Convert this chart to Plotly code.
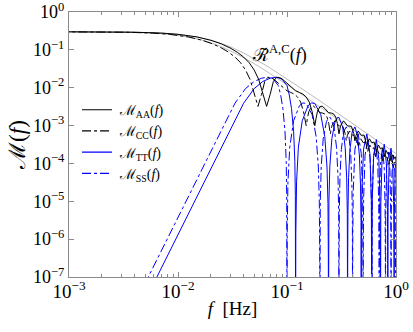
import plotly.graph_objects as go

# ---------------- data ----------------
# envelope R~ (thin grey lines): LISA-type (A) and Taiji-type (C) frequencies
F_R_A = [0.001, 0.002, 0.004, 0.007, 0.01, 0.015, 0.02, 0.025, 0.03, 0.04, 0.05,
         0.06, 0.07, 0.1, 0.15, 0.2, 0.3, 0.5, 0.7, 1.0, 1.2]
F_R_C = [0.000833, 0.001667, 0.003333, 0.005833, 0.008333, 0.0125, 0.016667,
         0.020833, 0.025, 0.033333, 0.041667, 0.05, 0.058333, 0.083333, 0.125,
         0.166667, 0.25, 0.416667, 0.583333, 0.833333, 1.0]
R_VALUES = [0.2995, 0.298, 0.2923, 0.2776, 0.2576, 0.219, 0.181, 0.148, 0.121,
            0.0826, 0.0587, 0.0434, 0.0331, 0.0172, 0.00789, 0.00449, 0.00201,
            7.28e-4, 3.72e-4, 1.82e-4, 1.266e-4]

# M_AA (LISA) and M_CC (Taiji) : same shape, different frequencies
F_AA = [0.001, 0.002, 0.004, 0.007, 0.01, 0.015, 0.02, 0.025, 0.03, 0.035, 0.04,
        0.045, 0.05, 0.055, 0.06, 0.065, 0.07, 0.075, 0.08, 0.085, 0.09, 0.1,
        0.11, 0.12, 0.13, 0.14, 0.15, 0.16, 0.17, 0.175, 0.18, 0.185, 0.19, 0.2,
        0.21, 0.225, 0.24, 0.255, 0.27, 0.28, 0.29, 0.3, 0.31, 0.33, 0.36, 0.39,
        0.41, 0.42, 0.43, 0.45, 0.48, 0.51, 0.53, 0.54, 0.55, 0.57, 0.6, 0.63,
        0.65, 0.66, 0.67, 0.69, 0.72, 0.75, 0.77, 0.78, 0.79, 0.81, 0.84, 0.87,
        0.89, 0.9, 0.91, 0.93, 0.96, 0.99, 1.01, 1.02, 1.03, 1.05, 1.08, 1.11,
        1.13, 1.14, 1.15, 1.17, 1.2]
F_CC = [0.000833, 0.001667, 0.003333, 0.005833, 0.008333, 0.0125, 0.016667,
        0.020833, 0.025, 0.029167, 0.033333, 0.0375, 0.041667, 0.045833, 0.05,
        0.054167, 0.058333, 0.0625, 0.066667, 0.070833, 0.075, 0.083333,
        0.091667, 0.1, 0.108333, 0.116667, 0.125, 0.133333, 0.141667, 0.145833,
        0.15, 0.154167, 0.158333, 0.166667, 0.175, 0.1875, 0.2, 0.2125, 0.225,
        0.233333, 0.241667, 0.25, 0.258333, 0.275, 0.3, 0.325, 0.341667, 0.35,
        0.358333, 0.375, 0.4, 0.425, 0.441667, 0.45, 0.458333, 0.475, 0.5, 0.525,
        0.541667, 0.55, 0.558333, 0.575, 0.6, 0.625, 0.641667, 0.65, 0.658333,
        0.675, 0.7, 0.725, 0.741667, 0.75, 0.758333, 0.775, 0.8, 0.825, 0.841667,
        0.85, 0.858333, 0.875, 0.9, 0.925, 0.941667, 0.95, 0.958333, 0.975, 1.0]
A_VALUES = [0.2995, 0.298, 0.2923, 0.2776, 0.2576, 0.219, 0.179, 0.1435, 0.1125,
            0.0866, 0.0644, 0.0457, 0.0293, 0.01657, 6.94e-3, 3.21e-3, 6.62e-3,
            0.01463, 0.01874, 0.01863, 0.01718, 0.01342, 0.01033, 8.27e-3, 7.5e-3,
            6.77e-3, 5.68e-3, 4.18e-3, 2.35e-3, 1.46e-3, 9.95e-4, 1.571e-3,
            2.31e-3, 3.14e-3, 3.26e-3, 2.74e-3, 2.19e-3, 2.14e-3, 1.985e-3,
            1.66e-3, 1.13e-3, 6.04e-4, 9.9e-4, 1.333e-3, 9.81e-4, 9.56e-4,
            6.11e-4, 3.92e-4, 5.56e-4, 7.19e-4, 5.53e-4, 5.6e-4, 3.86e-4, 2.75e-4,
            3.58e-4, 4.48e-4, 3.54e-4, 3.67e-4, 2.65e-4, 2.01e-4, 2.5e-4, 3.06e-4,
            2.46e-4, 2.59e-4, 1.92e-4, 1.5e-4, 1.825e-4, 2.22e-4, 1.81e-4, 1.93e-4,
            1.461e-4, 1.17e-4, 1.398e-4, 1.686e-4, 1.385e-4, 1.488e-4, 1.153e-4,
            9.46e-5, 1.108e-4, 1.323e-4, 1.094e-4, 1.184e-4, 9.28e-5, 7.72e-5,
            8.96e-5, 1.066e-4, 8.86e-5]

# M_TT (LISA) and M_SS (Taiji)
F_TT = [0.005, 0.0064, 0.01, 0.015, 0.02, 0.03, 0.04, 0.05, 0.06, 0.07, 0.08,
        0.09, 0.1, 0.105, 0.11, 0.115, 0.118, 0.1193, 0.1199, 0.12,
        0.12048, 0.1224, 0.1272, 0.138, 0.156, 0.168, 0.18, 0.204, 0.222, 0.2328,
        0.2376, 0.23952, 0.24,
        0.24048, 0.2424, 0.2472, 0.258, 0.276, 0.288, 0.3, 0.324, 0.342, 0.3528,
        0.3576, 0.35952, 0.36,
        0.36048, 0.3624, 0.3672, 0.378, 0.396, 0.42, 0.444, 0.462, 0.4728,
        0.4776, 0.47952, 0.48,
        0.4812, 0.486, 0.504, 0.54, 0.576, 0.594, 0.5988, 0.6,
        0.6012, 0.606, 0.624, 0.66, 0.696, 0.714, 0.7188, 0.72,
        0.7212, 0.726, 0.744, 0.78, 0.816, 0.834, 0.8388, 0.84,
        0.8412, 0.846, 0.864, 0.9, 0.936, 0.954, 0.9588, 0.96,
        0.9612, 0.966, 0.984, 1.02, 1.056, 1.074, 1.0788, 1.08,
        1.0812, 1.086, 1.104, 1.14, 1.176, 1.194, 1.1988, 1.2]
F_SS = [0.004167, 0.005333, 0.008333, 0.0125, 0.016667, 0.025, 0.033333,
        0.041667, 0.05, 0.058333, 0.066667, 0.075, 0.083333, 0.0875, 0.091667,
        0.095833, 0.098333, 0.099417, 0.099917, 0.1,
        0.1004, 0.102, 0.106, 0.115, 0.13, 0.14, 0.15, 0.17, 0.185, 0.194, 0.198,
        0.1996, 0.2,
        0.2004, 0.202, 0.206, 0.215, 0.23, 0.24, 0.25, 0.27, 0.285, 0.294, 0.298,
        0.2996, 0.3,
        0.3004, 0.302, 0.306, 0.315, 0.33, 0.35, 0.37, 0.385, 0.394, 0.398,
        0.3996, 0.4,
        0.401, 0.405, 0.42, 0.45, 0.48, 0.495, 0.499, 0.5,
        0.501, 0.505, 0.52, 0.55, 0.58, 0.595, 0.599, 0.6,
        0.601, 0.605, 0.62, 0.65, 0.68, 0.695, 0.699, 0.7,
        0.701, 0.705, 0.72, 0.75, 0.78, 0.795, 0.799, 0.8,
        0.801, 0.805, 0.82, 0.85, 0.88, 0.895, 0.899, 0.9,
        0.901, 0.905, 0.92, 0.95, 0.98, 0.995, 0.999, 1.0]
T_VALUES = [2.4e-8, 1e-7, 1.33e-6, 1.4e-5, 7.4e-5, 7.8e-4, 3.9e-3, 9.5e-3, 0.0146,
            0.0178, 0.019, 0.0168, 0.0113, 6.4e-3, 2.83e-3, 7.1e-4, 1.13e-4,
            1.4e-5, 2.8e-7, 1e-9,
            1.35e-6, 3.26e-5, 2.69e-4, 1.341e-3, 3.34e-3, 3.97e-3, 3.827e-3,
            1.95e-3, 5.18e-4, 8.03e-5, 8.65e-6, 3.41e-7, 1e-9,
            4.02e-7, 9.86e-6, 8.44e-5, 4.55e-4, 1.264e-3, 1.603e-3, 1.634e-3,
            9.18e-4, 2.59e-4, 4.15e-5, 4.53e-6, 1.8e-7, 1e-9,
            1.98e-7, 4.87e-6, 4.23e-5, 2.34e-4, 6.79e-4, 9.21e-4, 5.4e-4, 1.57e-4,
            2.55e-5, 2.8e-6, 1.11e-7, 1e-9,
            7.48e-7, 1.82e-5, 2.38e-4, 6.01e-4, 1.82e-4, 1.22e-5, 4.82e-7, 1e-9,
            5.09e-7, 1.24e-5, 1.65e-4, 4.27e-4, 1.32e-4, 8.94e-6, 3.56e-7, 1e-9,
            3.71e-7, 9.1e-6, 1.22e-4, 3.22e-4, 1.01e-4, 6.9e-6, 2.75e-7, 1e-9,
            2.85e-7, 7.01e-6, 9.45e-5, 2.53e-4, 8.05e-5, 5.51e-6, 2.19e-7, 1e-9,
            2.23e-7, 5.51e-6, 7.47e-5, 2.01e-4, 6.48e-5, 4.45e-6, 1.78e-7, 1e-9,
            1.82e-7, 4.48e-6, 6.11e-5, 1.66e-4, 5.38e-5, 3.71e-6, 1.48e-7, 1e-9]

X_TICKS = [0.001, 0.01, 0.1, 1]
X_TICK_TEXT = ["10<sup>\u22123</sup>", "10<sup>\u22122</sup>", "10<sup>\u22121</sup>", "10<sup>0</sup>"]
Y_TICKS = [1e-7, 1e-6, 1e-5, 1e-4, 1e-3, 1e-2, 1e-1, 1]
Y_TICK_TEXT = ["10<sup>\u22127</sup>", "10<sup>\u22126</sup>", "10<sup>\u22125</sup>",
               "10<sup>\u22124</sup>", "10<sup>\u22123</sup>", "10<sup>\u22122</sup>",
               "10<sup>\u22121</sup>", "10<sup>0</sup>"]

assert len(F_AA) == len(A_VALUES) == len(F_CC)
assert len(F_TT) == len(T_VALUES) == len(F_SS)
assert len(F_R_A) == len(R_VALUES) == len(F_R_C)

FONT = "'Liberation Serif', 'Times New Roman', serif"
BLUE = "#0000ff"

fig = go.Figure()
for fx in (F_R_A, F_R_C):
    fig.add_trace(go.Scatter(x=fx, y=R_VALUES, mode="lines", showlegend=False,
                             line=dict(color="#8c8c8c", width=0.6)))
fig.add_trace(go.Scatter(x=F_SS, y=T_VALUES, mode="lines", showlegend=False,
                         line=dict(color=BLUE, width=1, dash="dashdot")))
fig.add_trace(go.Scatter(x=F_TT, y=T_VALUES, mode="lines", showlegend=False,
                         line=dict(color=BLUE, width=1)))
fig.add_trace(go.Scatter(x=F_CC, y=A_VALUES, mode="lines", showlegend=False,
                         line=dict(color="black", width=1, dash="dashdot")))
fig.add_trace(go.Scatter(x=F_AA, y=A_VALUES, mode="lines", showlegend=False,
                         line=dict(color="black", width=1)))

# legend entries (dummy traces in the legend order of the reference)
legend_items = [("\u2009\u2133<sub>AA</sub>(<i>f</i>)", "black", "solid"),
                ("\u2009\u2133<sub>CC</sub>(<i>f</i>)", "black", "dashdot"),
                ("\u2009\u2133<sub>TT</sub>(<i>f</i>)", BLUE, "solid"),
                ("\u2009\u2133<sub>SS</sub>(<i>f</i>)", BLUE, "dashdot")]
for name, col, dash in legend_items:
    fig.add_trace(go.Scatter(x=[None], y=[None], mode="lines", name=name,
                             line=dict(color=col, width=1.2, dash=dash)))

fig.add_annotation(x=-1.07, y=-1.1, xref="x", yref="y", showarrow=False,
                   text="\u211b\u0303<sup>A,C</sup>(<i>f</i>)",
                   font=dict(family=FONT, size=18, color="black"))

axis_common = dict(type="log", showline=True, linecolor="#8a8a8a", linewidth=1,
                   mirror="ticks", ticks="inside", tickcolor="#8a8a8a",
                   ticklen=5, showgrid=False, zeroline=False, automargin=False,
                   ticklabeloverflow="allow")

fig.update_xaxes(range=[-3, 0], tickvals=X_TICKS, ticktext=X_TICK_TEXT,
                 ticklabelstandoff=-3,
                 tickfont=dict(family=FONT, size=19, color="black"),
                 minor=dict(ticks="inside", ticklen=3, tickcolor="#8a8a8a",
                            dtick="D1", showgrid=False),
                 title=dict(text="<i>f</i>  [Hz]", standoff=0,
                            font=dict(family=FONT, size=19, color="black")),
                 **axis_common)
fig.update_yaxes(range=[-7, 0], tickvals=Y_TICKS, ticktext=Y_TICK_TEXT,
                 tickfont=dict(family=FONT, size=18, color="black"),
                 title=dict(text="\u2133(<i>f</i>)", standoff=0,
                            font=dict(family=FONT, size=23, color="black")),
                 **axis_common)

fig.update_layout(width=413, height=332,
                  margin=dict(l=69, r=17, t=12, b=55, autoexpand=False),
                  paper_bgcolor="white", plot_bgcolor="white",
                  showlegend=True,
                  legend=dict(x=0.0245, y=0.69, xanchor="left", yanchor="top",
                              bgcolor="rgba(0,0,0,0)", borderwidth=0,
                              font=dict(family=FONT, size=14, color="black"),
                              itemwidth=30, tracegroupgap=0))

fig.write_html("out.html", config={"displayModeBar": False},
               post_script="document.body.style.margin='0';"
                           "document.body.style.overflow='hidden';")
